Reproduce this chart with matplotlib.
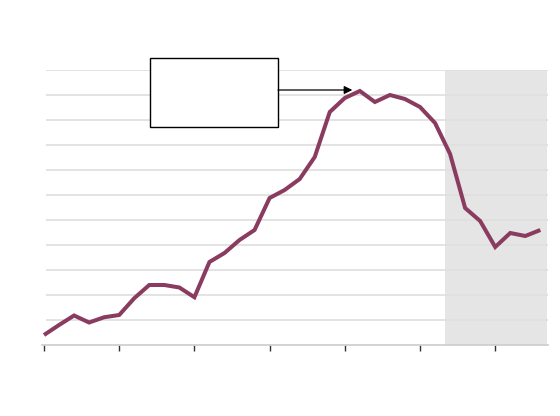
import matplotlib
matplotlib.use('Agg')
import matplotlib.pyplot as plt
from matplotlib.patches import Rectangle

# Series values (one point per period)
periods = list(range(34))
values = [0.40, 0.80, 1.18, 0.90, 1.11, 1.20, 1.87, 2.40, 2.40, 2.30,
          1.91, 3.32, 3.68, 4.20, 4.60, 5.88, 6.20, 6.64, 7.52, 9.32,
          9.88, 10.16, 9.72, 10.00, 9.84, 9.52, 8.88, 7.64, 5.48, 4.96,
          3.92, 4.48, 4.36, 4.60]
tick_positions = [0, 5, 10, 15, 20, 25, 30]
grid_levels = list(range(1, 12))
shade_span = (26.66, 33.45)

fig = plt.figure(figsize=(5.6, 4.16), dpi=100)
ax = fig.add_axes([42 / 560, (416 - 345) / 416, (548 - 42) / 560, 275 / 416])

# Shaded period
ax.axvspan(shade_span[0], shade_span[1], color='#e5e5e5', lw=0, zorder=0)

# Horizontal gridlines (start a little right of the axis origin)
ax.hlines(grid_levels, 0.13, 33.51, color='#e0e0e0', lw=1.3, zorder=1)

# Main line
ax.plot(periods, values, color='#8a3c60', lw=2.9, solid_joinstyle='miter',
        solid_capstyle='butt', zorder=3, clip_on=False)

ax.set_xlim(-0.133, 33.51)
ax.set_ylim(0, 11)

# Axes styling
for side in ['top', 'right', 'left']:
    ax.spines[side].set_visible(False)
ax.spines['bottom'].set_color('#cccccc')
ax.spines['bottom'].set_linewidth(1.2)
ax.set_xticks(tick_positions)
ax.set_xticklabels([])
ax.set_yticks([])
ax.tick_params(axis='x', direction='out', length=4, width=1, color='#333333')

# Empty annotation box with arrow pointing at the peak
box = Rectangle((7.05, 8.72), 15.56 - 7.05, 11.48 - 8.72, facecolor='white',
                edgecolor='black', lw=1, clip_on=False, zorder=5)
ax.add_patch(box)
ax.annotate('', xy=(20.5, 10.2), xytext=(15.56, 10.2),
            arrowprops=dict(arrowstyle='-|>', color='black', lw=0.9,
                            mutation_scale=12, shrinkA=0, shrinkB=0),
            zorder=6)

fig.savefig('out.png', dpi=100, facecolor='white')
plt.close(fig)
